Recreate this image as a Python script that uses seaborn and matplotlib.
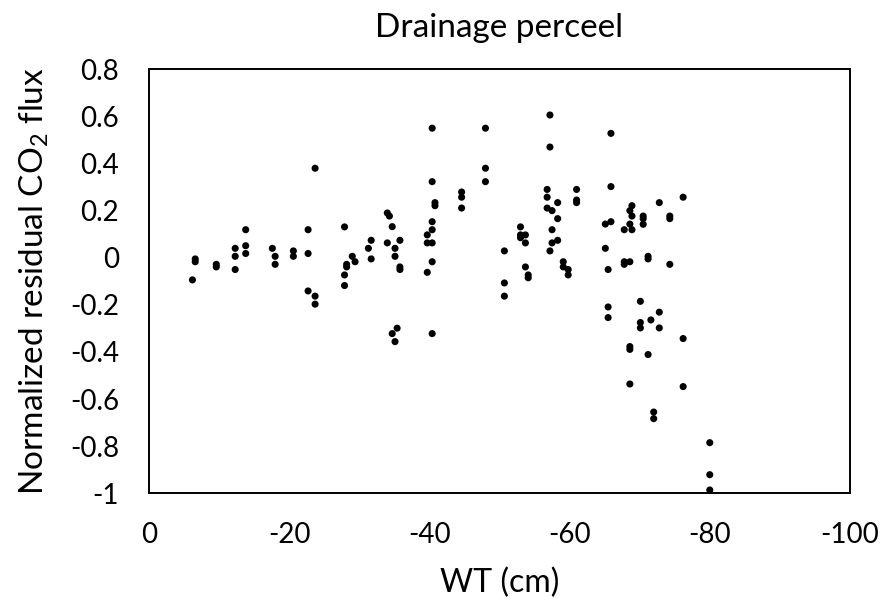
import matplotlib
matplotlib.use("Agg")
import matplotlib.pyplot as plt
import seaborn as sns
import pandas as pd

wt = [-6.2, -6.6, -6.6, -9.6, -9.6, -12.3, -12.3, -12.3, -13.8, -13.8, -13.8,
      -17.6, -18.0, -18.0, -20.6, -20.6, -22.7, -22.7, -22.7, -23.7, -23.7, -23.7,
      -27.9, -27.9, -27.9, -28.2, -28.2, -29.0, -29.4, -31.3, -31.7, -31.7,
      -34.0, -34.3, -34.7, -34.0, -35.1, -35.1, -35.8, -35.8, -35.8, -34.7, -35.4, -35.1,
      -39.7, -39.7, -39.7, -40.4, -40.4, -40.8, -40.8, -40.4, -40.4, -40.4, -40.4, -40.4,
      -44.6, -44.6, -44.6, -48.0, -48.0, -48.0,
      -50.7, -50.7, -50.7, -53.0, -53.0, -53.0, -53.7, -53.7, -53.7, -54.1, -54.1,
      -57.2, -57.2, -56.8, -56.8, -56.8, -57.5, -58.3, -58.3, -57.5, -57.5, -58.3, -57.2,
      -59.1, -59.1, -59.8, -59.8, -61.0, -61.0, -61.0,
      -65.9, -65.9, -65.1, -65.9, -65.1, -65.5, -65.5, -65.5,
      -67.8, -67.8, -67.8, -68.6, -68.9, -68.6, -68.9, -68.9, -68.6,
      -70.5, -70.5, -70.5, -71.2, -71.2, -72.8, -74.3, -74.3, -74.3, -76.2,
      -70.1, -72.8, -71.6, -70.1, -70.1, -72.8, -76.2, -68.6, -68.6, -71.2,
      -68.6, -76.2, -72.0, -72.0, -80.0, -80.0, -80.0]

flux = [-0.094, -0.005, -0.017, -0.028, -0.039, 0.040, 0.006, -0.050, 0.119, 0.051, 0.018,
        0.040, 0.006, -0.028, 0.029, 0.006, 0.119, 0.018, -0.141, 0.380, -0.163, -0.197,
        0.131, -0.073, -0.118, -0.028, -0.039, 0.006, -0.017, 0.040, 0.074, -0.005,
        0.190, 0.177, 0.132, 0.063, 0.040, 0.006, 0.074, -0.039, -0.050, -0.322, -0.299, -0.356,
        0.097, 0.063, -0.062, 0.550, 0.323, 0.234, 0.221, 0.153, 0.119, 0.063, -0.017, -0.322,
        0.279, 0.257, 0.211, 0.550, 0.380, 0.323,
        0.029, -0.107, -0.163, 0.131, 0.097, 0.085, 0.097, 0.063, -0.039, -0.073, -0.085,
        0.606, 0.470, 0.290, 0.257, 0.211, 0.200, 0.234, 0.166, 0.119, 0.063, 0.074, 0.029,
        -0.017, -0.039, -0.050, -0.073, 0.290, 0.245, 0.234,
        0.528, 0.302, 0.143, 0.153, 0.040, -0.050, -0.209, -0.254,
        0.119, -0.017, -0.028, 0.143, 0.119, 0.200, 0.221, 0.177, -0.017,
        0.177, 0.166, 0.142, 0.006, -0.005, 0.234, 0.177, 0.166, -0.028, 0.257,
        -0.185, -0.231, -0.264, -0.275, -0.298, -0.298, -0.343, -0.377, -0.389, -0.411,
        -0.536, -0.547, -0.655, -0.683, -0.785, -0.921, -0.986]

x_ticks = [0, -20, -40, -60, -80, -100]
x_tick_labels = ["0", "-20", "-40", "-60", "-80", "-100"]
y_ticks = [0.8, 0.6, 0.4, 0.2, 0, -0.2, -0.4, -0.6, -0.8, -1]
y_tick_labels = ["0.8", "0.6", "0.4", "0.2", "0", "-0.2", "-0.4", "-0.6", "-0.8", "-1"]

df = pd.DataFrame({"WT": wt, "flux": flux})

sns.set_theme(style="white")
plt.rcParams["font.family"] = ["Lato", "DejaVu Sans"]
plt.rcParams["mathtext.fontset"] = "custom"
plt.rcParams["mathtext.rm"] = "Lato"

fig = plt.figure(figsize=(8.83, 6.01), dpi=100)
ax = fig.add_axes([0.1687, 0.1792, 0.7939, 0.7055])
sns.scatterplot(data=df, x="WT", y="flux", ax=ax, color="black", s=26,
                edgecolor="none", clip_on=False)

ax.set_xlim(0, -100)
ax.set_ylim(-1, 0.8)
ax.set_xticks(x_ticks)
ax.set_xticklabels(x_tick_labels)
ax.set_yticks(y_ticks)
ax.set_yticklabels(y_tick_labels)
ax.tick_params(axis="both", direction="out", length=6.5, width=1.4, color="black",
               labelsize=20, labelcolor="black")
ax.tick_params(axis="x", pad=14)
ax.tick_params(axis="y", pad=15)
for sp in ax.spines.values():
    sp.set_visible(True)
    sp.set_color("black")
    sp.set_linewidth(1.4)

ax.set_xlabel("WT (cm)", fontsize=23, color="black", labelpad=14)
ax.set_ylabel(r"Normalized residual CO$_\mathrm{2}$ flux", fontsize=24, color="black", labelpad=14)
ax.set_title("Drainage perceel", fontsize=24, color="black", pad=23)

fig.savefig("out.png", dpi=100)
